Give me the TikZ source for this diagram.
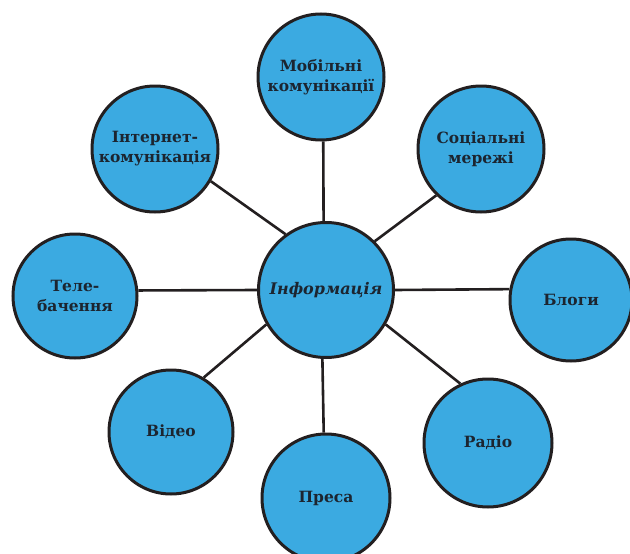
\documentclass[tikz,border=0pt]{standalone}
\usepackage{fontspec}
\setmainfont{DejaVu Serif}
\definecolor{bubble}{HTML}{3BAAE1}
\definecolor{ink}{HTML}{231F20}
\definecolor{txt}{HTML}{1C2530}
\tikzset{
  bub/.style={circle,draw=ink,line width=3pt,fill=bubble,inner sep=0pt,align=center,text=txt,
    font=\bfseries\fontsize{15.5}{20}\selectfont},
  link/.style={draw=ink,line width=2.6pt}
}
\begin{document}
\begin{tikzpicture}[x=1pt,y=-1pt]
\useasboundingbox (0,0) rectangle (630,554);
\node[bub,minimum size=126pt] (mob) at (321,77) {Мобільні\\комунікації};
\node[bub,minimum size=126pt] (soc) at (481,149) {Соціальні\\мережі};
\node[bub,minimum size=122pt] (blog) at (571,300) {Блоги};
\node[bub,minimum size=128pt] (radio) at (488,443) {Радіо};
\node[bub,minimum size=128pt] (press) at (326,498) {Преса};
\node[bub,minimum size=124pt] (video) at (171,432) {Відео};
\node[bub,minimum size=124pt] (tele) at (75,296) {Теле-\\бачення};
\node[bub,minimum size=126pt] (inet) at (155,149) {Інтернет-\\комунікація};
\node[bub,minimum size=135pt,font=\bfseries\itshape\fontsize{16}{20}\selectfont] (info) at (326,290) {Інформація};
\draw[link] (info.92.5) -- (mob.-88);
\draw[link] (info.45) -- (soc.226);
\draw[link] (info.0) -- (blog.170.5);
\draw[link] (info.330) -- (radio.115.8);
\draw[link] (info.267.4) -- (press.92.7);
\draw[link] (info.210.7) -- (video.59.8);
\draw[link] (info.180) -- (tele.5.5);
\draw[link] (info.126) -- (inet.-30.4);
\end{tikzpicture}
\end{document}
